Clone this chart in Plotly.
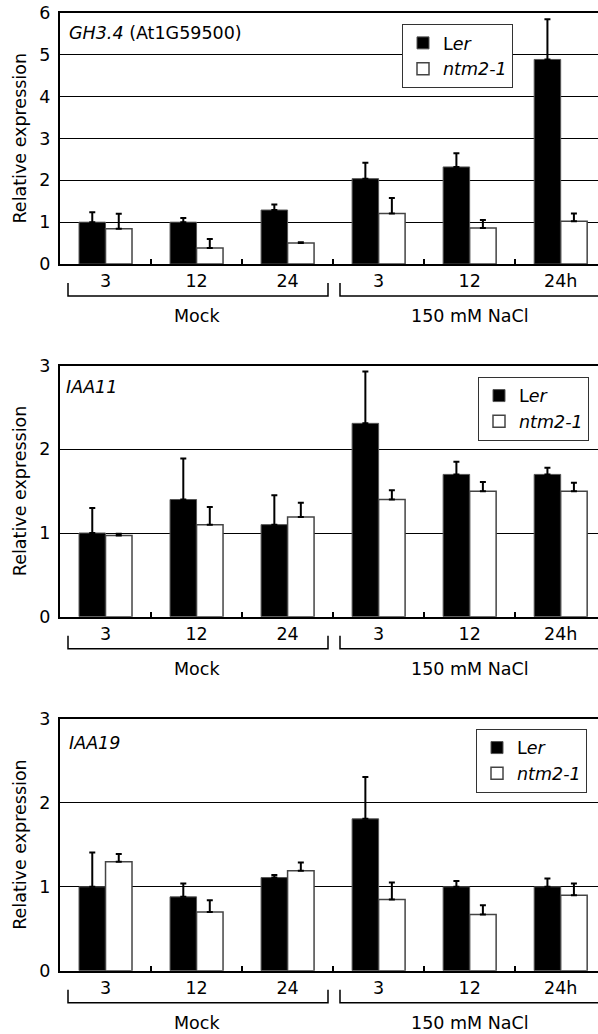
import plotly.graph_objects as go

time_labels = ["3", "12", "24", "3", "12", "24h"]
groups = ["Mock", "150 mM NaCl"]
series_names = ["L<i>er</i>", "<i>ntm2-1</i>"]

gh34_ler = [1.00, 1.00, 1.29, 2.04, 2.32, 4.89]
gh34_ler_err = [0.24, 0.10, 0.13, 0.38, 0.33, 0.96]
gh34_ntm = [0.84, 0.38, 0.50, 1.21, 0.86, 1.02]
gh34_ntm_err = [0.36, 0.22, 0.02, 0.37, 0.19, 0.19]

iaa11_ler = [1.00, 1.40, 1.10, 2.31, 1.70, 1.70]
iaa11_ler_err = [0.30, 0.49, 0.35, 0.62, 0.15, 0.08]
iaa11_ntm = [0.97, 1.10, 1.19, 1.40, 1.50, 1.50]
iaa11_ntm_err = [0.02, 0.21, 0.17, 0.11, 0.11, 0.10]

iaa19_ler = [1.00, 0.88, 1.11, 1.81, 1.00, 1.00]
iaa19_ler_err = [0.41, 0.16, 0.03, 0.50, 0.07, 0.10]
iaa19_ntm = [1.30, 0.70, 1.19, 0.85, 0.67, 0.90]
iaa19_ntm_err = [0.09, 0.14, 0.10, 0.20, 0.11, 0.14]

W, H = 598, 1034


def py(v):
    return 1 - v / H


def px(v):
    return v / W


panels = [
    dict(title="<i>GH3.4</i> (At1G59500)", ymax=6, ler=gh34_ler, ler_e=gh34_ler_err,
         ntm=gh34_ntm, ntm_e=gh34_ntm_err, dom=(py(264), py(13)),
         lx=px(402), ly=py(24), tx=7 / 538, ty=1 - 20 / 251),
    dict(title="<i>IAA11</i>", ymax=3, ler=iaa11_ler, ler_e=iaa11_ler_err,
         ntm=iaa11_ntm, ntm_e=iaa11_ntm_err, dom=(py(616.7), py(365.6)),
         lx=px(478), ly=py(376.7), tx=4 / 538, ty=1 - 21 / 251),
    dict(title="<i>IAA19</i>", ymax=3, ler=iaa19_ler, ler_e=iaa19_ler_err,
         ntm=iaa19_ntm, ntm_e=iaa19_ntm_err, dom=(py(970.7), py(719)),
         lx=px(476), ly=py(728.7), tx=7 / 538, ty=1 - 24 / 251),
]

FONT = "DejaVu Sans"
FS = 17.5
xpos = list(range(len(time_labels)))
fig = go.Figure()
layout = dict(
    width=W, height=H, margin=dict(l=0, r=0, t=0, b=0, autoexpand=False),
    paper_bgcolor="white", plot_bgcolor="white",
    barmode="group", bargap=0.418, bargroupgap=0,
    font=dict(family=FONT, size=FS, color="black"),
    annotations=[], shapes=[],
)

for i, p in enumerate(panels):
    n = "" if i == 0 else str(i + 1)
    xa, ya = "x" + n, "y" + n
    leg = "legend" + n
    fig.add_trace(go.Bar(
        x=xpos, y=p["ler"], name=series_names[0], xaxis=xa, yaxis=ya, legend=leg,
        marker=dict(color="black", line=dict(color="#555555", width=1)),
        error_y=dict(type="data", array=p["ler_e"], arrayminus=[0] * 6, symmetric=False,
                     color="black", thickness=2, width=3),
    ))
    fig.add_trace(go.Bar(
        x=xpos, y=p["ntm"], name=series_names[1], xaxis=xa, yaxis=ya, legend=leg,
        marker=dict(color="white", line=dict(color="#444444", width=1.5)),
        error_y=dict(type="data", array=p["ntm_e"], arrayminus=[0] * 6, symmetric=False,
                     color="black", thickness=2, width=3),
    ))
    layout["xaxis" + n] = dict(
        domain=[px(60), 1], range=[-0.5, 5.41], anchor=ya, automargin=False,
        tickmode="array", tickvals=xpos, ticktext=time_labels, ticks="",
        tickfont=dict(size=FS), showline=True, linecolor="black", linewidth=2,
        mirror=True, showgrid=False, zeroline=False,
        minor=dict(tickmode="array", tickvals=[0.5, 1.5, 2.5, 3.5, 4.5], ticks="inside",
                   ticklen=5, tickwidth=2, tickcolor="black", showgrid=False),
    )
    layout["yaxis" + n] = dict(
        domain=list(p["dom"]), range=[0, p["ymax"]], anchor=xa, dtick=1, automargin=False,
        tickfont=dict(size=FS), showline=True, linecolor="black", linewidth=2,
        showgrid=True, gridcolor="black", gridwidth=1, zeroline=False, ticks="",
        ticklabelstandoff=4, ticklabeloverflow="allow",
    )
    layout[leg] = dict(
        x=p["lx"], y=p["ly"], xanchor="left", yanchor="top",
        bgcolor="white", bordercolor="#333333", borderwidth=1,
        font=dict(size=FS, family=FONT), tracegroupgap=0, itemwidth=30,
    )
    yd = ya + " domain"
    xd = xa + " domain"
    layout["annotations"] += [
        dict(text=p["title"], xref=xd, yref=yd, x=p["tx"], y=p["ty"], xanchor="left",
             yanchor="middle", showarrow=False, font=dict(size=FS)),
        dict(text="Relative expression", xref="paper", yref=yd, x=px(20), y=0.5,
             textangle=-90, showarrow=False, xanchor="center", yanchor="middle",
             font=dict(size=FS)),
        dict(text=groups[0], xref=xa, yref=yd, x=1, y=-52 / 251, showarrow=False,
             yanchor="middle", font=dict(size=FS)),
        dict(text=groups[1], xref=xa, yref=yd, x=4, y=-52 / 251, showarrow=False,
             yanchor="middle", font=dict(size=FS)),
    ]
    by, bt = -32 / 251, -19 / 251
    for x0, x1 in [(8 / 538, 268 / 538), (280 / 538, 1.0)]:
        layout["shapes"].append(dict(type="path", xref=xd, yref=yd,
                                     path=f"M{x0},{bt} L{x0},{by} L{x1},{by} L{x1},{bt}" if x1 < 1 else f"M{x0},{bt} L{x0},{by} L{x1},{by}",
                                     line=dict(color="black", width=1.5)))

fig.update_layout(**layout)
fig.write_html("out.html", config={"displayModeBar": False},
               post_script="document.body.style.margin='0px';document.body.style.overflow='hidden';")
